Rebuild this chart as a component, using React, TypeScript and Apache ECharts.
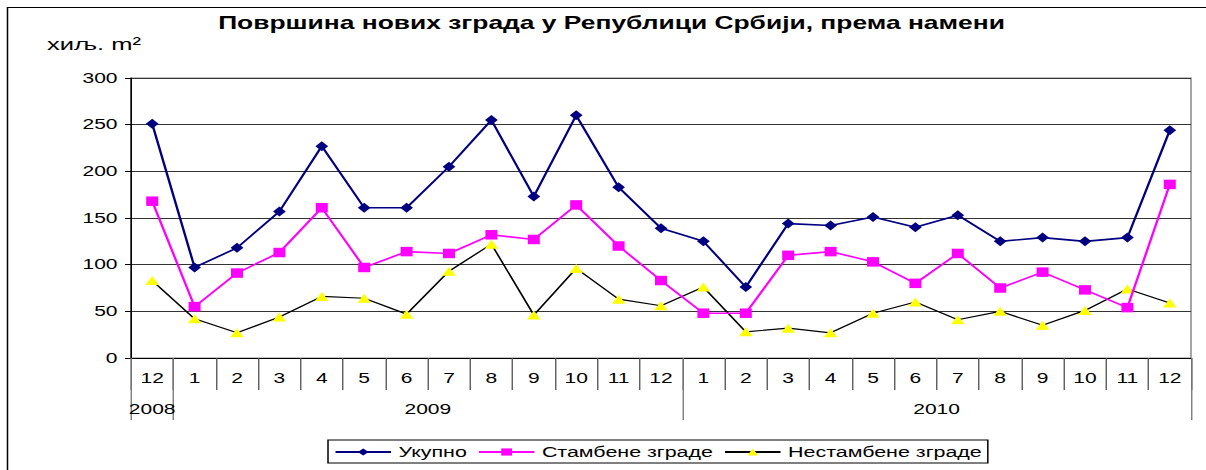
import React, { useEffect, useRef } from "react";
import * as echarts from "echarts";

const months = ["12", "1", "2", "3", "4", "5", "6", "7", "8", "9", "10", "11", "12", "1", "2", "3", "4", "5", "6", "7", "8", "9", "10", "11", "12"];
const years = ["2008", "2009", "2010"];
const yearMonthCounts = [1, 12, 12];

const ukupno = [251, 97, 118, 157, 227, 161, 161, 205, 255, 173, 260, 183, 139, 125, 76, 144, 142, 151, 140, 153, 125, 129, 125, 129, 244];
const stambene = [168, 55, 91, 113, 161, 97, 114, 112, 132, 127, 164, 120, 83, 48, 48, 110, 114, 103, 80, 112, 75, 92, 73, 54, 186];
const nestambene = [83, 42, 27, 44, 66, 64, 47, 93, 122, 46, 96, 63, 56, 76, 28, 32, 27, 48, 60, 41, 50, 35, 51, 74, 59];

const seriesNames = ["Укупно", "Стамбене зграде", "Нестамбене зграде"];
const titleText = "Површина нових зграда у Републици Србији, према намени";
const unitText = "хиљ. m²";

const FONT = "'Liberation Sans', Arial, sans-serif";
const SX = 1.5; // the reference picture is stretched horizontally
const W = 1206 / SX;

export default function App() {
  const ref = useRef<HTMLDivElement>(null);
  useEffect(() => {
    if (!ref.current) return;
    const chart = echarts.init(ref.current, undefined, { renderer: "svg" });

    const nSlots = months.length * 2 + 1;
    const yearSlots: string[] = new Array(nSlots).fill("");
    const boundarySlots: number[] = [0];
    let start = 0;
    years.forEach((y, i) => {
      const c = yearMonthCounts[i];
      yearSlots[start * 2 + c] = y;
      start += c;
      boundarySlots.push(start * 2);
    });

    chart.setOption({
      animation: false,
      textStyle: { fontFamily: FONT },
      title: {
        text: titleText,
        left: 604 / SX,
        textAlign: "center",
        top: 9,
        textStyle: { fontFamily: FONT, fontSize: 17.6, fontWeight: "bold", color: "#000" },
      },
      graphic: [
        {
          type: "rect",
          shape: { x: 7.5 / SX, y: 7.5, width: 1400, height: 600 },
          style: { fill: "none", stroke: "#000", lineWidth: 1 },
          silent: true,
          z: -1,
        },
        {
          type: "text",
          left: 47 / SX,
          top: 36,
          style: { text: unitText, font: `17px ${FONT}`, fill: "#000" },
        },
      ],
      legend: {
        left: 328 / SX,
        top: 440,
        data: seriesNames,
        itemWidth: 37,
        itemHeight: 9,
        itemGap: 7,
        padding: [5, 4, 4, 4],
        borderColor: "#000",
        borderWidth: 1,
        textStyle: { fontFamily: FONT, fontSize: 14.3, color: "#000" },
      },
      grid: {
        left: 131 / SX,
        right: 15 / SX,
        top: 78,
        bottom: 112,
        show: true,
        borderColor: "#888",
        borderWidth: 1,
        backgroundColor: "transparent",
      },
      xAxis: [
        {
          type: "category",
          data: months,
          boundaryGap: true,
          axisLine: { show: true, lineStyle: { color: "#000", width: 1 } },
          axisTick: { show: true, length: 32, interval: 0, lineStyle: { color: "#555", width: 0.9 } },
          axisLabel: { interval: 0, margin: 13, fontSize: 14, color: "#000", fontFamily: FONT },
          splitLine: { show: false },
        },
        {
          type: "category",
          position: "bottom",
          offset: 0,
          data: yearSlots,
          boundaryGap: false,
          axisLine: { show: false },
          axisTick: {
            show: true,
            length: 62,
            interval: (i: number) => boundarySlots.indexOf(i) >= 0,
            lineStyle: { color: "#777", width: 0.9 },
          },
          axisLabel: { interval: 0, margin: 44, fontSize: 14, color: "#000", fontFamily: FONT },
          splitLine: { show: false },
        },
      ],
      yAxis: {
        type: "value",
        min: 0,
        max: 300,
        interval: 50,
        axisLine: { show: true, lineStyle: { color: "#000", width: 1 } },
        axisTick: { show: true, length: 4, lineStyle: { color: "#000" } },
        axisLabel: { margin: 9, fontSize: 14, color: "#000", fontFamily: FONT },
        splitLine: { show: true, lineStyle: { color: "#333", width: 1 } },
      },
      series: [
        {
          name: seriesNames[0],
          type: "line",
          data: ukupno,
          xAxisIndex: 0,
          symbol: "diamond",
          symbolSize: [8.5, 10],
          itemStyle: { color: "#000080" },
          lineStyle: { color: "#000080", width: 1.6 },
          z: 3,
        },
        {
          name: seriesNames[1],
          type: "line",
          data: stambene,
          xAxisIndex: 0,
          symbol: "rect",
          symbolSize: [8, 9.5],
          itemStyle: { color: "#ff00ff" },
          lineStyle: { color: "#ff00ff", width: 1.6 },
          z: 2,
        },
        {
          name: seriesNames[2],
          type: "line",
          data: nestambene,
          xAxisIndex: 0,
          symbol: "triangle",
          symbolSize: [9, 9],
          itemStyle: { color: "#ffff00" },
          lineStyle: { color: "#000", width: 1.2 },
          z: 1,
        },
      ],
    });
    return () => chart.dispose();
  }, []);
  return (
    <div
      ref={ref}
      style={{
        width: W,
        height: 470,
        position: "absolute",
        left: 0,
        top: 0,
        transform: `scaleX(${SX})`,
        transformOrigin: "0 0",
      }}
    />
  );
}
